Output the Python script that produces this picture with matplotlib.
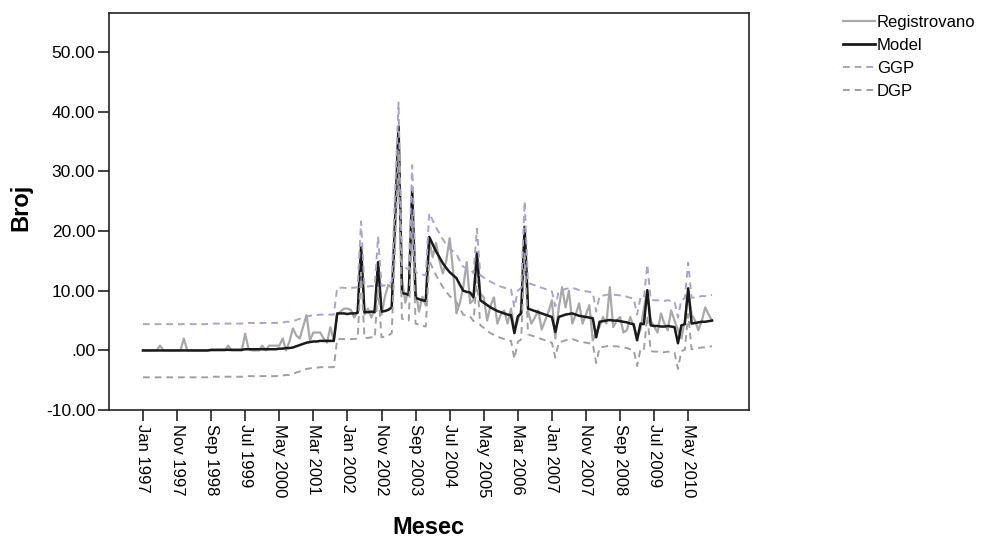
import matplotlib
matplotlib.use("Agg")
import matplotlib.pyplot as plt
from matplotlib.lines import Line2D

plt.rcParams['font.family'] = ['Liberation Sans', 'DejaVu Sans']

# monthly series, Jan 1997 .. Dec 2010 (168 months)
registrovano = [
    0, 0, 0, 0, 0, 0.8, 0, 0, 0, 0, 0, 0, 2.0, 0, 0, 0, 0, 0, 0, 0,
    0, 0, 0, 0, 0, 0.8, 0, 0, 0, 0, 2.8, 0.2, 0, 0, 0, 0.8, 0, 0.8, 0.8, 0.8,
    0.8, 2.0, 0, 1.5, 3.7, 2.5, 2.0, 4.0, 5.9, 1.7, 3.0, 3.0, 3.0, 2.0, 1.3, 3.9, 1.7,
    6.0, 6.5, 7.0, 7.0, 6.8, 5.5, 6.5, 17.0, 6.0, 7.0, 5.5, 7.0, 14.5, 6.0, 9.0, 11.0, 10.5,
    21.5, 37.0, 12.0, 8.0, 10.5, 26.5, 10.0, 6.5, 9.0, 7.5,
    18.5, 15.6, 18.0, 15.0, 12.9, 15.0, 18.8, 13.4, 6.2, 8.0, 10.6, 14.8, 7.9, 8.5, 16.5, 9.5,
    8.9, 5.0, 7.5, 8.9, 4.5, 6.0, 6.7, 4.5, 7.0, 3.5, 5.0, 7.0, 20.0, 6.5, 4.5, 5.5, 6.7, 3.5,
    5.0, 6.5, 8.4, 2.0, 7.0, 10.6, 7.2, 10.0, 4.5, 6.0, 7.9, 4.5, 6.0, 7.6, 1.7, 3.0, 4.0, 5.6,
    4.5, 10.6, 3.9, 5.0, 5.6, 3.0, 3.4, 5.6, 4.0, 2.2, 3.5, 7.0, 10.0, 5.0, 4.0, 3.0, 6.2, 4.5,
    3.4, 6.7, 5.0, 3.4, 2.0, 5.0, 10.0, 6.0, 5.0, 3.4, 5.0, 7.2, 6.0, 5.0,
]
model = [
    0.0, 0.0, 0.0, 0.0, 0.0, 0.0, 0.0, 0.0, 0.0, 0.0, 0.0, 0.0, 0.0, 0.0, 0.0, 0.0, 0.0, 0.0, 0.0, 0.0,
    0.1, 0.1, 0.1, 0.1, 0.1, 0.1, 0.1, 0.1, 0.1, 0.1, 0.2, 0.2, 0.2, 0.2, 0.2, 0.2, 0.2, 0.2, 0.2, 0.2,
    0.3, 0.3, 0.4, 0.4, 0.5, 0.7, 0.9, 1.1, 1.3, 1.4, 1.5, 1.5, 1.6, 1.6, 1.6, 1.6, 1.6,
    6.2, 6.2, 6.2, 6.1, 6.2, 6.2, 6.3, 17.3, 6.4, 6.4, 6.5, 6.4, 14.8, 6.5, 6.6, 6.8, 7.2,
    22.0, 37.5, 9.6, 9.5, 9.3, 26.8, 8.8, 8.6, 8.4, 8.3,
    19.0, 17.8, 16.6, 15.6, 14.6, 13.8, 13.1, 12.6, 12.1, 11.0, 10.0, 9.8, 9.7, 8.9, 16.2, 8.4,
    8.0, 7.6, 7.2, 6.9, 6.6, 6.4, 6.2, 6.0, 5.9, 2.9, 5.7, 6.2, 20.7, 7.0, 6.8, 6.6, 6.4, 6.2,
    6.0, 5.8, 5.6, 3.1, 5.6, 5.8, 6.0, 6.1, 6.2, 6.0, 5.8, 5.7, 5.6, 5.5, 5.4, 2.2, 4.8, 4.9,
    5.0, 5.1, 5.0, 5.0, 4.9, 4.8, 4.7, 4.5, 4.4, 1.7, 4.5, 4.4, 10.1, 4.2, 4.1, 4.1, 4.0, 4.0,
    4.1, 4.0, 3.9, 1.2, 4.2, 4.4, 10.4, 4.5, 4.6, 4.7, 4.8, 4.8, 4.9, 5.0,
]
ggp = [
    4.4, 4.4, 4.4, 4.4, 4.4, 4.4, 4.4, 4.4, 4.4, 4.4, 4.4, 4.4, 4.4, 4.4, 4.4, 4.4, 4.4, 4.4, 4.4, 4.4,
    4.5, 4.5, 4.5, 4.5, 4.5, 4.5, 4.5, 4.5, 4.5, 4.5, 4.6, 4.6, 4.6, 4.6, 4.6, 4.6, 4.6, 4.6, 4.6, 4.6,
    4.7, 4.7, 4.8, 4.8, 4.9, 5.1, 5.3, 5.5, 5.7, 5.8, 5.9, 5.9, 6.0, 6.0, 6.0, 6.0, 6.0,
    10.5, 10.5, 10.5, 10.4, 10.5, 10.5, 10.6, 21.6, 10.7, 10.7, 10.8, 10.7, 19.1, 10.8, 10.9, 11.1, 11.5,
    26.3, 41.5, 13.9, 13.8, 13.6, 31.0, 13.1, 12.9, 12.7, 12.6,
    23.0, 21.8, 20.6, 19.6, 18.6, 17.8, 17.1, 16.6, 16.1, 15.0, 14.0, 13.8, 13.7, 12.9, 20.4, 12.6,
    12.2, 11.9, 11.5, 11.2, 10.9, 10.7, 10.5, 10.3, 10.2, 7.2, 10.0, 10.5, 25.0, 11.3, 11.1, 10.9, 10.7, 10.5,
    10.3, 10.1, 9.9, 7.4, 9.9, 10.1, 10.3, 10.4, 10.5, 10.3, 10.1, 10.0, 9.9, 9.8, 9.7, 6.5, 9.1, 9.2,
    9.3, 9.4, 9.3, 9.3, 9.2, 9.1, 9.0, 8.8, 8.7, 6.0, 8.8, 8.7, 14.4, 8.5, 8.4, 8.4, 8.3, 8.3,
    8.4, 8.3, 8.2, 5.5, 8.5, 8.7, 14.7, 8.8, 8.9, 9.0, 9.1, 9.1, 9.2, 9.3,
]
dgp = [
    -4.5, -4.5, -4.5, -4.5, -4.5, -4.5, -4.5, -4.5, -4.5, -4.5, -4.5, -4.5, -4.5, -4.5, -4.5, -4.5, -4.5, -4.5, -4.5, -4.5,
    -4.4, -4.4, -4.4, -4.4, -4.4, -4.4, -4.4, -4.4, -4.4, -4.4, -4.3, -4.3, -4.3, -4.3, -4.3, -4.3, -4.3, -4.3, -4.3, -4.3,
    -4.2, -4.2, -4.1, -4.1, -3.9, -3.7, -3.5, -3.3, -3.1, -3.0, -2.9, -2.9, -2.8, -2.8, -2.8, -2.8, -2.8,
    1.9, 1.9, 1.9, 1.8, 1.9, 1.9, 2.0, 13.0, 2.1, 2.1, 2.2, 2.1, 10.5, 2.2, 2.3, 2.5, 2.9,
    17.7, 33.5, 5.3, 5.2, 5.0, 22.6, 4.5, 4.3, 4.1, 4.0,
    15.0, 13.8, 12.6, 11.6, 10.6, 9.8, 9.1, 8.6, 8.1, 7.0, 6.0, 5.8, 5.7, 4.9, 12.0, 4.2,
    3.8, 3.3, 2.9, 2.6, 2.3, 2.1, 1.9, 1.7, 1.6, -1.4, 1.4, 1.9, 16.4, 2.7, 2.5, 2.3, 2.1, 1.9,
    1.7, 1.5, 1.3, -1.2, 1.3, 1.5, 1.7, 1.8, 1.9, 1.7, 1.5, 1.4, 1.3, 1.2, 1.1, -2.1, 0.5, 0.6,
    0.7, 0.8, 0.7, 0.7, 0.6, 0.5, 0.4, 0.2, 0.1, -2.6, 0.2, 0.1, 5.8, -0.1, -0.2, -0.2, -0.3, -0.3,
    -0.2, -0.3, -0.4, -3.1, -0.1, 0.1, 6.1, 0.2, 0.3, 0.4, 0.5, 0.5, 0.6, 0.7,
]

tick_labels = ['Jan 1997', 'Nov 1997', 'Sep 1998', 'Jul 1999', 'May 2000', 'Mar 2001',
               'Jan 2002', 'Nov 2002', 'Sep 2003', 'Jul 2004', 'May 2005', 'Mar 2006',
               'Jan 2007', 'Nov 2007', 'Sep 2008', 'Jul 2009', 'May 2010']
y_ticks = [-10, 0, 10, 20, 30, 40, 50]
y_labels = ['-10.00', '.00', '10.00', '20.00', '30.00', '40.00', '50.00']

months = list(range(len(model)))

fig = plt.figure(figsize=(9.81, 5.39), dpi=100)
ax = fig.add_axes([0.111, 0.239, 0.652, 0.737])

ax.plot(months, registrovano, color='#a8a8a8', lw=1.6, label='Registrovano')
ax.plot(months, model, color='#1a1a1a', lw=1.8, label='Model')
ax.plot(months, ggp, color='#aaa5c4', lw=1.4, ls=(0, (3.5, 2.5)), label='GGP')
ax.plot(months, dgp, color='#a0a0a0', lw=1.4, ls=(0, (3.5, 2.5)), label='DGP')

ax.set_xlim(-10, 177.7)
ax.set_ylim(-10, 56.5)
ax.set_xticks(range(0, 161, 10))
ax.set_xticklabels(tick_labels, rotation=-90, fontsize=12)
ax.set_yticks(y_ticks)
ax.set_yticklabels(y_labels, fontsize=12.5)
ax.tick_params(direction='out', length=8, width=1.2, color='#222222', pad=2)
for s in ax.spines.values():
    s.set_linewidth(1.2)
    s.set_color('#222222')

ax.set_xlabel('Mesec', fontsize=17, fontweight='bold')
ax.xaxis.set_label_coords(0.5, -0.267)
ax.set_ylabel('Broj', fontsize=17, fontweight='bold')
ax.yaxis.set_label_coords(-0.12, 0.51)

handles = [Line2D([], [], color='#a8a8a8', lw=1.6),
           Line2D([], [], color='#1a1a1a', lw=2.0),
           Line2D([], [], color='#aaa5c4', lw=1.4, ls=(0, (3.5, 2.5))),
           Line2D([], [], color='#a0a0a0', lw=1.4, ls=(0, (3.5, 2.5)))]
fig.legend(handles, ['Registrovano', 'Model', 'GGP', 'DGP'], loc='upper left',
           bbox_to_anchor=(0.853, 0.984), frameon=False, fontsize=12,
           handlelength=1.9, handletextpad=0.1, labelspacing=0.47, borderaxespad=0)

fig.savefig('out.png', dpi=100)
